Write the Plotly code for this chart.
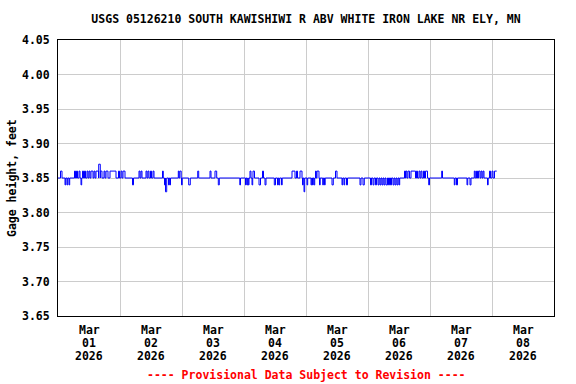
import pandas as pd
import plotly.graph_objects as go

# ---- data (hours after 2026-03-01 00:00) ----
baseline_ft = 3.85
record_end_h = 169.82

pulse_start_h = [
    0.97, 2.71, 3.48, 4.26, 6.39, 7.16, 8.13, 8.90, 9.48, 10.26, 11.23, 12.00,
    12.77, 13.94, 14.71, 15.75, 16.37, 17.81, 18.58, 20.13, 23.42, 24.39, 25.16,
    28.84, 31.35, 32.13, 34.06, 34.84, 35.81, 36.77, 40.45, 41.23, 41.61, 42.77,
    43.28, 46.57, 47.15, 47.81,
    50.59, 54.08, 58.84, 60.77, 62.05, 70.37,
    72.58, 73.16, 73.67, 74.32, 75.10, 75.48, 77.81, 79.16, 80.13, 83.73, 84.97,
    85.55, 86.52, 90.58, 92.32, 93.68, 94.65, 95.23,
    96.39, 97.94, 98.52, 99.10, 99.68, 100.26, 101.23, 102.47, 103.16, 106.07,
    107.42, 109.94, 110.71, 111.68, 116.90, 118.07,
    120.97, 121.94, 122.90, 123.87, 124.65, 125.42, 126.19, 126.97, 127.94,
    128.71, 129.68, 130.45, 131.23, 132.00, 134.13, 134.71, 135.48, 136.65,
    138.77, 139.74, 140.52, 141.48, 142.26, 143.50,
    148.53, 153.41, 154.26, 158.32, 159.48, 161.15, 162.00, 162.77, 163.74,
    164.52, 166.26, 167.03, 168.00, 168.97,
]
pulse_end_h = [
    1.55, 2.98, 3.75, 4.53, 6.77, 7.55, 8.52, 9.17, 9.87, 10.65, 11.61, 12.39,
    13.55, 14.32, 15.68, 16.37, 17.03, 18.19, 19.35, 22.45, 23.81, 24.77, 25.94,
    29.23, 31.74, 32.52, 34.45, 35.23, 36.19, 37.16, 40.76, 41.54, 42.08, 43.05,
    43.55, 46.84, 47.69, 48.08,
    51.21, 54.47, 59.23, 61.43, 62.44, 70.65,
    72.85, 73.43, 73.94, 74.71, 75.37, 76.06, 78.39, 79.55, 80.52, 84.19, 85.28,
    85.82, 86.79, 91.74, 92.71, 94.45, 94.92, 95.50,
    96.66, 98.21, 98.79, 99.37, 99.99, 101.03, 101.50, 102.74, 103.43, 106.57,
    108.00, 110.21, 110.98, 112.06, 117.29, 118.57,
    121.35, 122.32, 123.29, 124.26, 125.03, 125.81, 126.58, 127.55, 128.32,
    129.10, 130.06, 130.84, 131.61, 132.27, 134.52, 135.10, 136.06, 138.39,
    139.16, 140.13, 140.90, 141.87, 143.03, 143.81,
    148.84, 153.68, 154.65, 158.60, 159.87, 161.53, 162.39, 163.35, 164.13,
    164.90, 166.53, 167.42, 168.39, 169.82,
]
pulse_ft = [
    3.86, 3.84, 3.84, 3.84, 3.86, 3.86, 3.86, 3.84, 3.86, 3.86, 3.86, 3.86,
    3.86, 3.86, 3.86, 3.87, 3.86, 3.86, 3.86, 3.86, 3.86, 3.86, 3.86,
    3.84, 3.86, 3.86, 3.86, 3.86, 3.86, 3.86, 3.86, 3.84, 3.83, 3.84,
    3.84, 3.86, 3.86, 3.84,
    3.84, 3.86, 3.86, 3.86, 3.84, 3.84,
    3.84, 3.84, 3.84, 3.86, 3.84, 3.86, 3.84, 3.86, 3.84, 3.84, 3.84,
    3.84, 3.84, 3.86, 3.86, 3.86, 3.84, 3.83,
    3.84, 3.84, 3.84, 3.84, 3.86, 3.86, 3.84, 3.84, 3.84, 3.84,
    3.86, 3.84, 3.84, 3.84, 3.84, 3.84,
    3.84, 3.84, 3.84, 3.84, 3.84, 3.84, 3.84, 3.84, 3.84,
    3.84, 3.84, 3.84, 3.84, 3.84, 3.86, 3.86, 3.86, 3.86,
    3.86, 3.86, 3.86, 3.86, 3.86, 3.84,
    3.86, 3.84, 3.84, 3.84, 3.84, 3.86, 3.86, 3.86, 3.86,
    3.86, 3.84, 3.86, 3.86, 3.86,
]

month_labels = ["Mar"] * 8
day_numbers = ["01", "02", "03", "04", "05", "06", "07", "08"]
year_labels = ["2026"] * 8
y_ticks = [3.65, 3.70, 3.75, 3.80, 3.85, 3.90, 3.95, 4.00, 4.05]

title_text = "USGS 05126210 SOUTH KAWISHIWI R ABV WHITE IRON LAKE NR ELY, MN"
y_title = "Gage height, feet"
footer = "---- Provisional Data Subject to Revision ----"

# ---- build step series ----
t0 = pd.Timestamp("2026-03-01 00:00")
hours = [0.0]
vals = [baseline_ft]
for s, e, v in zip(pulse_start_h, pulse_end_h, pulse_ft):
    hours.append(s)
    vals.append(v)
    hours.append(e)
    vals.append(baseline_ft if e < record_end_h else v)
times = [t0 + pd.Timedelta(hours=h) for h in hours]

n_days = len(day_numbers)
day_mid = [t0 + pd.Timedelta(hours=12 + 24 * i) for i in range(n_days)]
day_edge = [t0 + pd.Timedelta(days=i) for i in range(1, n_days + 1)]

FONT = "DejaVu Sans Mono"
FS = 11.5
PLOT_H = 276
W, H = 576, 384

fig = go.Figure()
fig.add_trace(go.Scatter(
    x=times, y=vals, mode="lines", line=dict(color="#0000ff", width=1, shape="hv"),
    hoverinfo="skip", showlegend=False,
))

fig.update_layout(
    width=W, height=H,
    margin=dict(l=58, r=22, t=40, b=68, autoexpand=False),
    paper_bgcolor="white", plot_bgcolor="white",
    font=dict(family=FONT, size=11, color="black", weight="bold"),
    title=dict(text=title_text, x=0.5, xref="paper", xanchor="center",
               y=1 - 19 / H, yref="container", yanchor="middle", automargin=False,
               font=dict(family=FONT, size=FS, color="black", weight="bold")),
    showlegend=False,
    hovermode=False,
)
fig.update_xaxes(
    type="date",
    range=[t0, t0 + pd.Timedelta(days=8)],
    tickmode="array", tickvals=day_edge, showticklabels=False,
    showgrid=True, gridcolor="#cccccc", gridwidth=1, ticks="",
    showline=True, linecolor="black", linewidth=1, mirror=True,
    zeroline=False, automargin=False,
)
fig.update_yaxes(
    range=[3.65, 4.05],
    tickmode="array", tickvals=y_ticks, ticktext=[f"{v:.2f}" for v in y_ticks],
    showgrid=True, gridcolor="#cccccc", gridwidth=1, ticks="",
    ticklabelstandoff=5,
    showline=True, linecolor="black", linewidth=1, mirror=True,
    zeroline=False, automargin=False,
    tickfont=dict(family=FONT, size=FS, color="black", weight="bold"),
)

# three-line date labels under each day (centred at noon)
for row, labels in enumerate([month_labels, day_numbers, year_labels]):
    dy = 14 + 13 * row
    for xm, lab in zip(day_mid, labels):
        fig.add_annotation(
            text=lab, x=xm, xref="x", y=-dy / PLOT_H, yref="paper",
            xanchor="center", yanchor="middle", showarrow=False,
            font=dict(family=FONT, size=FS, color="black", weight="bold"),
        )

fig.add_annotation(
    text=y_title, textangle=-90, xref="paper", yref="paper",
    x=(12 - 58) / 496, y=0.5, xanchor="center", yanchor="middle",
    showarrow=False, font=dict(family=FONT, size=FS, color="black", weight="bold"),
)
fig.add_annotation(
    text=footer, xref="paper", yref="paper",
    x=0.5, y=-(375 - 316) / PLOT_H, xanchor="center", yanchor="middle",
    showarrow=False, font=dict(family=FONT, size=FS, color="#ff0000", weight="bold"),
)

fig.write_html("out.html",
               config={"displayModeBar": False},
               post_script="document.body.style.margin='0';document.body.style.overflow='hidden';")
